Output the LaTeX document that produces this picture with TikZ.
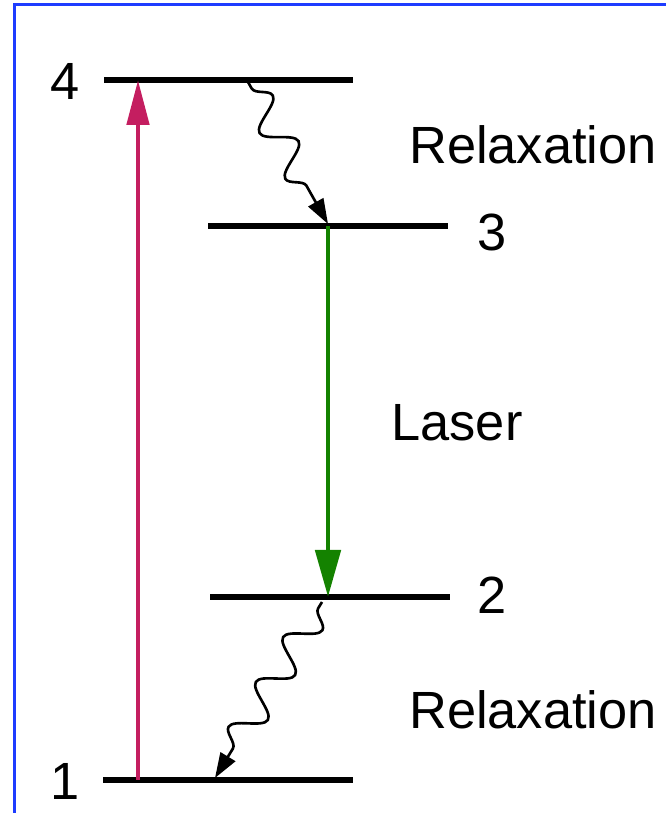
\documentclass[tikz,border=0pt]{standalone}
\usepackage{fontspec}
\setmainfont{Liberation Sans}
\usetikzlibrary{arrows.meta,decorations.pathmorphing}
\definecolor{pumpred}{RGB}{196,30,96}
\definecolor{lasergreen}{RGB}{20,130,0}
\definecolor{frameblue}{RGB}{30,60,255}
\begin{document}
\begin{tikzpicture}[
  level/.style={line width=3.4pt},
  lbl/.style={font=\fontsize{29.8}{35}\selectfont},
  wavy/.style={line width=1.5pt,decorate,
    decoration={snake,segment length=1.05cm,amplitude=0.3cm,pre length=0.15cm,post length=0.5cm},
    -{Triangle[length=0.5cm,width=0.34cm]}}]
\useasboundingbox (0,0) rectangle (13.32,16.26);
\draw[frameblue,line width=1.7pt] (0.29,-0.2) -- (0.29,16.16) -- (13.6,16.16);

% levels
\coordinate (l4a) at (2.08,14.66);  \coordinate (l4b) at (7.06,14.66);
\coordinate (l3a) at (4.16,11.74);  \coordinate (l3b) at (8.96,11.74);
\coordinate (l2a) at (4.20,4.32);   \coordinate (l2b) at (9.00,4.32);
\coordinate (l1a) at (2.06,0.66);   \coordinate (l1b) at (7.06,0.66);
\draw[level] (l4a) -- (l4b);
\draw[level] (l3a) -- (l3b);
\draw[level] (l2a) -- (l2b);
\draw[level] (l1a) -- (l1b);
\node[lbl] (n4) at (1.30,14.64) {4};
\node[lbl] (n3) at (9.84,11.62) {3};
\node[lbl] (n2) at (9.84,4.36) {2};
\node[lbl] (n1) at (1.30,0.64) {1};

% pump and laser
\coordinate (p1) at (2.76,0.66);  \coordinate (p4) at (2.76,14.66);
\coordinate (g3) at (6.56,11.74); \coordinate (g2) at (6.56,4.32);
\draw[pumpred,line width=2.8pt,-{Triangle[length=0.9cm,width=0.44cm]}] (p1) -- (p4);
\draw[lasergreen,line width=2.8pt,-{Triangle[length=0.94cm,width=0.5cm]}] (g3) -- (g2);

% relaxation
\coordinate (r4) at (4.96,14.62); \coordinate (r3) at (6.56,11.78);
\coordinate (r2) at (6.44,4.22);  \coordinate (r1) at (4.30,0.70);
\draw[wavy] (r4) -- (r3);
\draw[wavy] (r2) -- (r1);

\node[lbl] (rel1) at (10.66,13.36) {Relaxation};
\node[lbl] (rel2) at (10.66,2.06) {Relaxation};
\node[lbl] (las) at (9.14,7.80) {Laser};
\end{tikzpicture}
\end{document}
